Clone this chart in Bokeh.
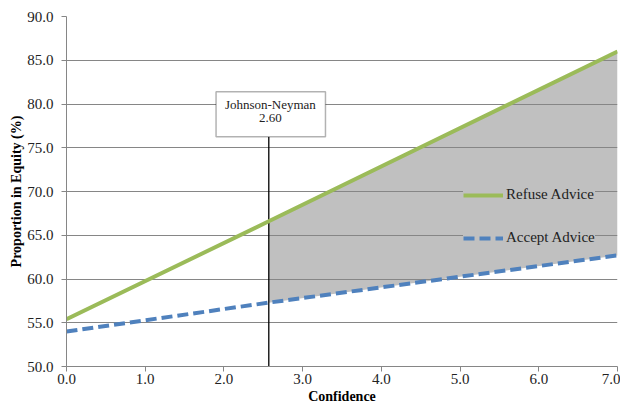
from bokeh.plotting import figure
from bokeh.models import (Range1d, FixedTicker, NumeralTickFormatter, Legend, LegendItem,
                          BoxAnnotation, Label, ColumnDataSource)
from bokeh.embed import file_html
from bokeh.resources import INLINE

# ---- data ----
confidence = [0.0, 2.57, 7.0]
refuse_advice = [55.4, 66.6, 86.0]
accept_advice = [54.0, 57.3, 62.7]
jn_value = 2.57
jn_label = "2.60"
x_ticks = [0, 1, 2, 3, 4, 5, 6, 7]
y_ticks = [50, 55, 60, 65, 70, 75, 80, 85, 90]

FONT = "Liberation Serif"
GREEN = "#9BBB59"
BLUE = "#4F81BD"
GRID = "#868686"

p = figure(width=620, height=406, output_backend="svg", toolbar_location=None,
           x_range=Range1d(0, 7), y_range=Range1d(50, 90),
           min_border_left=66, min_border_right=3, min_border_top=16, min_border_bottom=37)
p.outline_line_color = None
p.background_fill_color = "white"
p.border_fill_color = "white"

# shaded region of significance (drawn in underlay, below grid)
shade_x = [x for x in confidence if x >= jn_value]
shade_top = [r for x, r in zip(confidence, refuse_advice) if x >= jn_value]
shade_bot = [a for x, a in zip(confidence, accept_advice) if x >= jn_value]
p.varea(x=shade_x, y1=shade_bot, y2=shade_top, fill_color="#C0C0C0", level="underlay")

# grids
p.xgrid.grid_line_color = None
p.ygrid.grid_line_color = GRID
p.ygrid.grid_line_width = 1
p.ygrid.ticker = FixedTicker(ticks=y_ticks)

# axes
for ax in (p.xaxis[0], p.yaxis[0]):
    ax.axis_line_color = GRID
    ax.major_tick_line_color = GRID
    ax.major_tick_out = 5
    ax.major_tick_in = 0
    ax.minor_tick_line_color = None
    ax.major_label_text_font = FONT
    ax.major_label_text_font_size = "15px"
    ax.major_label_text_color = "#222222"
    ax.axis_label_text_font = FONT
    ax.axis_label_text_font_style = "bold"
    ax.axis_label_text_font_size = "14px"
    ax.axis_label_text_color = "black"
    ax.formatter = NumeralTickFormatter(format="0.0")
p.xaxis.ticker = FixedTicker(ticks=x_ticks)
p.yaxis.ticker = FixedTicker(ticks=y_ticks)
p.xaxis.axis_label = "Confidence"
p.yaxis.axis_label = "Proportion in Equity (%)"
p.xaxis.major_label_standoff = 2
p.yaxis.major_label_standoff = 8
p.xaxis.axis_label_standoff = 2
p.yaxis.axis_label_standoff = 0

# Johnson-Neyman annotation
box_bottom, box_top = 76.25, 81.4
p.segment(x0=[jn_value], y0=[50], x1=[jn_value], y1=[box_bottom], line_color="black", line_width=1.3)
p.add_layout(BoxAnnotation(left=jn_value - 0.67, right=jn_value + 0.72, bottom=box_bottom, top=box_top,
                           fill_color="white", fill_alpha=1, line_color="black", line_width=1.5,
                           level="annotation"))
p.add_layout(Label(x=jn_value + 0.02, y=79.9, text="Johnson-Neyman", text_align="center",
                   text_baseline="middle", text_font=FONT, text_font_size="13px", text_color="#222222"))
p.add_layout(Label(x=jn_value + 0.02, y=78.35, text=jn_label, text_align="center",
                   text_baseline="middle", text_font=FONT, text_font_size="13px", text_color="#222222"))

# lines
src = ColumnDataSource(dict(x=confidence, r=refuse_advice, a=accept_advice))
r1 = p.line("x", "r", source=src, line_color=GREEN, line_width=4)
r2 = p.line("x", "a", source=src, line_color=BLUE, line_width=4, line_dash="11 5")

legend = Legend(items=[LegendItem(label="Refuse Advice", renderers=[r1]),
                       LegendItem(label="Accept Advice", renderers=[r2])],
                location=(397, 120), orientation="vertical",
                background_fill_color="#C0C0C0", background_fill_alpha=1,
                border_line_color=None, padding=12, spacing=26,
                glyph_width=40, glyph_height=14, label_height=14, label_standoff=3,
                label_text_font=FONT, label_text_font_size="15px", label_text_color="#222222",
                margin=0)
p.add_layout(legend)

open("out.html", "w").write(file_html(p, INLINE))
